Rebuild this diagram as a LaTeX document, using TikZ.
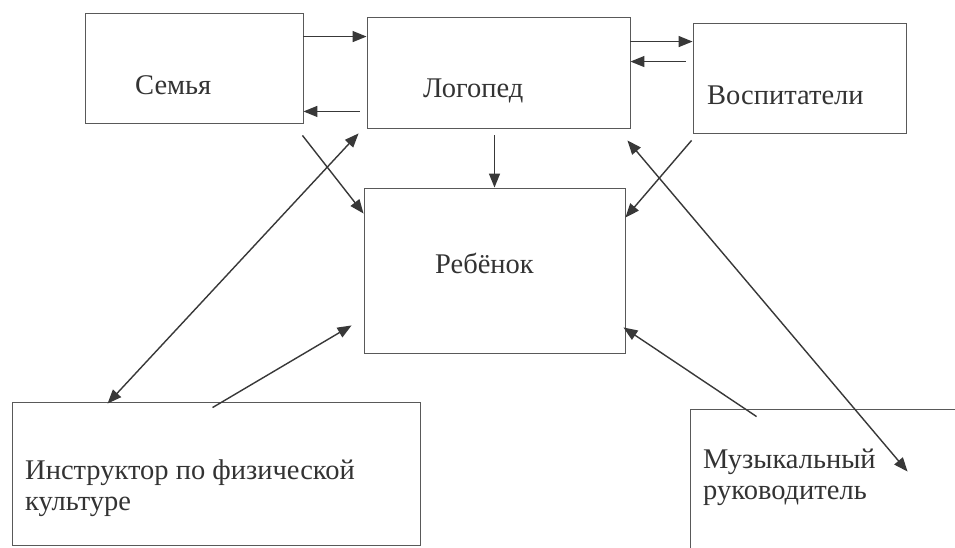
\documentclass[tikz,border=0pt]{standalone}
\usepackage{fontspec}
\setmainfont{Liberation Serif}
\usetikzlibrary{calc,arrows.meta}
\begin{document}
\begin{tikzpicture}[x=1pt,y=-1pt,
  box/.style={draw=black!65,line width=0.9pt,inner sep=0pt,rectangle},
  lbl/.style={anchor=west,inner sep=0pt,font=\fontsize{28.5}{31}\selectfont,text=black!80,align=left},
  arr/.style={draw=black!78,line width=1.4pt,-{Triangle[length=14pt,width=11pt]}},
  darr/.style={draw=black!78,line width=1.4pt,{Triangle[length=14pt,width=11pt]}-{Triangle[length=14pt,width=11pt]}}]
\useasboundingbox[fill=white] (0,0) rectangle (955,548);
\node[box,minimum width=218pt,minimum height=110pt] (semya) at (194,68) {};
\node[box,minimum width=263pt,minimum height=111pt] (logoped) at (498.5,72.5) {};
\node[box,minimum width=213pt,minimum height=110pt] (vosp) at (799.5,78) {};
\node[box,minimum width=261pt,minimum height=165pt] (reb) at (494.5,270.5) {};
\node[box,minimum width=408pt,minimum height=143pt] (instr) at (216,473.5) {};
\node[box,minimum width=275pt,minimum height=151pt] (muz) at (827.5,484.5) {};
\node[lbl] (tsemya) at (135,85) {Семья};
\node[lbl] (tlog) at (423,91) {Логопед};
\node[lbl] (tvosp) at (707,95) {Воспитатели};
\node[lbl] (treb) at (435,263) {Ребёнок};
\node[lbl] (tinstr) at (25,488) {Инструктор по физической\\культуре};
\node[lbl] (tmuz) at (703,477) {Музыкальный\\руководитель};
\draw[arr] ($(semya.north east)+(0,24)$) -- ($(logoped.north west)+(0,20)$);
\draw[arr] ($(logoped.south west)+(-7,-17)$) -- ($(semya.south east)+(0,-12)$);
\draw[arr] ($(logoped.north east)+(0,25)$) -- ($(vosp.north west)+(0,19)$);
\draw[arr] ($(vosp.north west)+(-7,39)$) -- ($(logoped.north east)+(0,45)$);
\draw[arr] ($(logoped.south)+(-4,7)$) -- (reb.north);
\draw[arr] ($(semya.south east)+(-1,12)$) -- ($(reb.north west)+(0,26)$);
\draw[arr] ($(vosp.south west)+(-1,7)$) -- ($(reb.north east)+(0,30)$);
\draw[darr] ($(instr.north west)+(96,2)$) -- ($(logoped.south west)+(-8,5)$);
\draw[arr] ($(instr.north west)+(201,6)$) -- ($(reb.south west)+(-12,-28)$);
\draw[arr] ($(muz.north west)+(67,8)$) -- ($(reb.south east)+(-2,-26)$);
\draw[darr] ($(logoped.south east)+(-3,12)$) -- ($(muz.north west)+(218,63)$);
\end{tikzpicture}
\end{document}
